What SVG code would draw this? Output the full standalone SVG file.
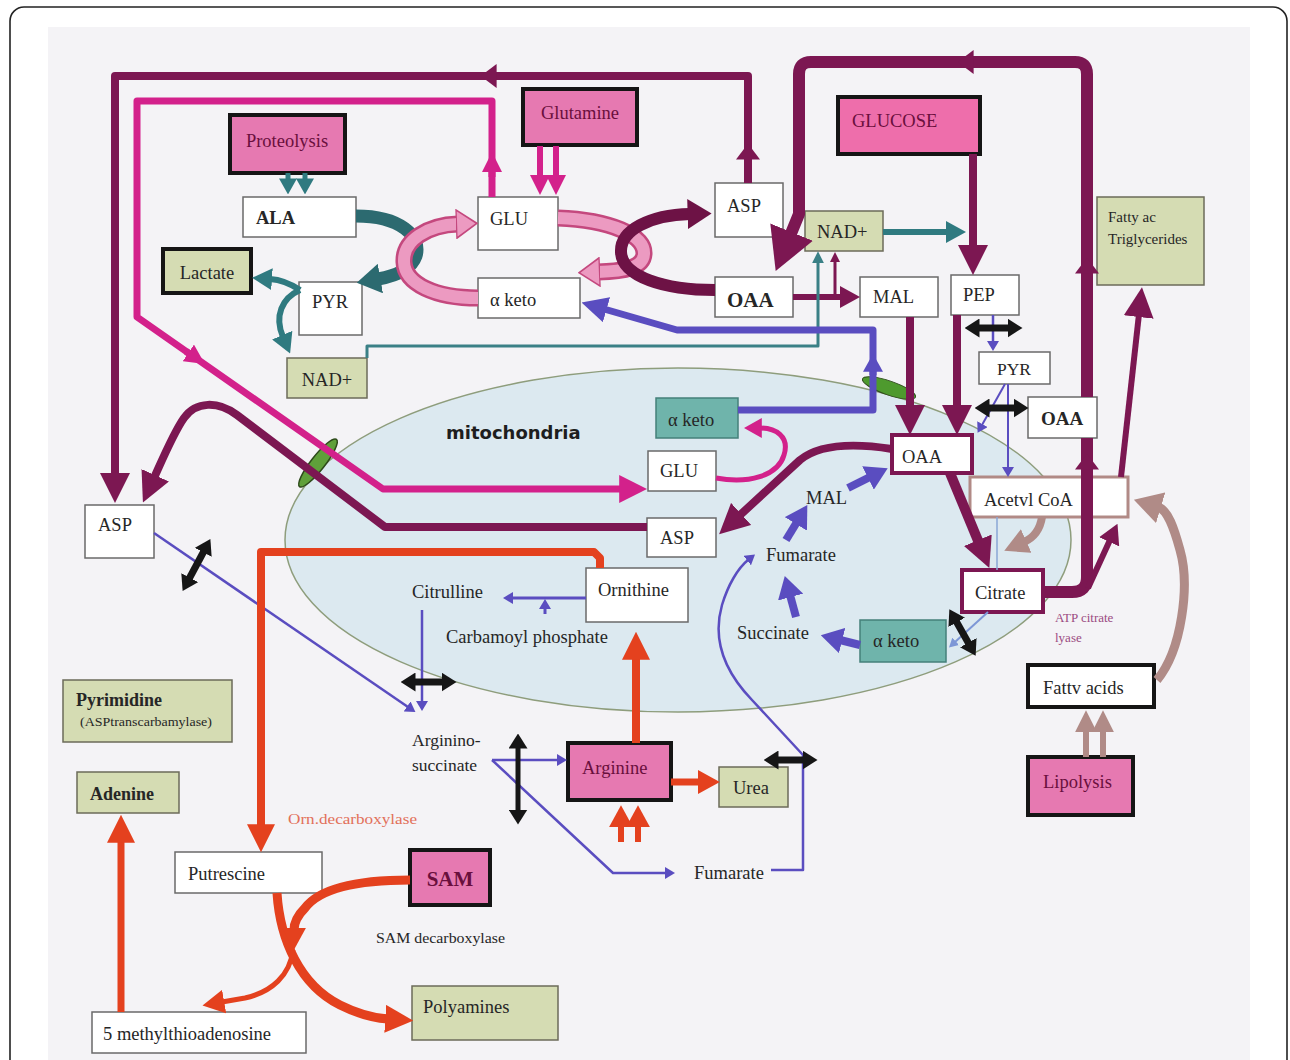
<svg xmlns="http://www.w3.org/2000/svg" width="1290" height="1060" viewBox="0 0 1290 1060">
<defs>
<style>
.bx{fill:#fff;stroke:#6a6a6a;stroke-width:1.5}
.pk{fill:#e679b1;stroke:#151515;stroke-width:4}
.gr{fill:#d5dcb3;stroke:#6b6b5a;stroke-width:1.5}
.grk{fill:#d5dcb3;stroke:#151515;stroke-width:4}
.tl{fill:#6fb4ab;stroke:#44807a;stroke-width:1.5}
.mr{fill:#fff;stroke:#7c1752;stroke-width:4}
.bk{fill:#fff;stroke:#151515;stroke-width:4}
.ac{fill:#fff;stroke:#b18a86;stroke-width:3}
text{font-family:"Liberation Serif","Times New Roman",serif;font-size:18.5px;fill:#262626;dominant-baseline:central}
.tp{fill:#6a0f3d}
.b{font-weight:bold}
.sm{font-size:13px}
.M{stroke:#7c1752}.P{stroke:#d3218b}.T{stroke:#2f7a80}.B{stroke:#5a4dc0}.R{stroke:#e4411e}.K{stroke:#161616}.N{stroke:#b08b87}
</style>
<marker id="mM30" viewBox="0 0 10 10" refX="1" refY="5" markerUnits="userSpaceOnUse" markerWidth="30" markerHeight="30" orient="auto" preserveAspectRatio="none"><path d="M0,0L10,5L0,10z" fill="#7c1752"/></marker>
<marker id="mM20" viewBox="0 0 10 10" refX="1" refY="5" markerUnits="userSpaceOnUse" markerWidth="20" markerHeight="22" orient="auto" preserveAspectRatio="none"><path d="M0,0L10,5L0,10z" fill="#7c1752"/></marker>
<marker id="mM44" viewBox="0 0 10 10" refX="1" refY="5" markerUnits="userSpaceOnUse" markerWidth="42" markerHeight="46" orient="auto" preserveAspectRatio="none"><path d="M0,0L10,5L0,10z" fill="#7c1752"/></marker>
<marker id="mMs" viewBox="0 0 10 10" refX="1" refY="5" markerUnits="userSpaceOnUse" markerWidth="16" markerHeight="24" orient="auto" preserveAspectRatio="none"><path d="M0,0L10,5L0,10z" fill="#7c1752"/></marker>
<marker id="mM10" viewBox="0 0 10 10" refX="1" refY="5" markerUnits="userSpaceOnUse" markerWidth="10" markerHeight="10" orient="auto" preserveAspectRatio="none"><path d="M0,0L10,5L0,10z" fill="#7c1752"/></marker>
<marker id="mMarc" viewBox="0 0 10 10" refX="1" refY="5" markerUnits="userSpaceOnUse" markerWidth="24" markerHeight="30" orient="auto" preserveAspectRatio="none"><path d="M0,0L10,5L0,10z" fill="#6d1245"/></marker>
<marker id="mP28" viewBox="0 0 10 10" refX="1" refY="5" markerUnits="userSpaceOnUse" markerWidth="28" markerHeight="28" orient="auto" preserveAspectRatio="none"><path d="M0,0L10,5L0,10z" fill="#d3218b"/></marker>
<marker id="mP20" viewBox="0 0 10 10" refX="1" refY="5" markerUnits="userSpaceOnUse" markerWidth="20" markerHeight="20" orient="auto" preserveAspectRatio="none"><path d="M0,0L10,5L0,10z" fill="#d3218b"/></marker>
<marker id="mP18" viewBox="0 0 10 10" refX="1" refY="5" markerUnits="userSpaceOnUse" markerWidth="18" markerHeight="20" orient="auto" preserveAspectRatio="none"><path d="M0,0L10,5L0,10z" fill="#d3218b"/></marker>
<marker id="mT20" viewBox="0 0 10 10" refX="1" refY="5" markerUnits="userSpaceOnUse" markerWidth="20" markerHeight="22" orient="auto" preserveAspectRatio="none"><path d="M0,0L10,5L0,10z" fill="#2f7a80"/></marker>
<marker id="mT16" viewBox="0 0 10 10" refX="1" refY="5" markerUnits="userSpaceOnUse" markerWidth="16" markerHeight="18" orient="auto" preserveAspectRatio="none"><path d="M0,0L10,5L0,10z" fill="#2f7a80"/></marker>
<marker id="mT12" viewBox="0 0 10 10" refX="1" refY="5" markerUnits="userSpaceOnUse" markerWidth="12" markerHeight="12" orient="auto" preserveAspectRatio="none"><path d="M0,0L10,5L0,10z" fill="#3a8086"/></marker>
<marker id="mTarc" viewBox="0 0 10 10" refX="1" refY="5" markerUnits="userSpaceOnUse" markerWidth="24" markerHeight="30" orient="auto" preserveAspectRatio="none"><path d="M0,0L10,5L0,10z" fill="#2c6a70"/></marker>
<marker id="mL" viewBox="0 0 10 10" refX="1" refY="5" markerUnits="userSpaceOnUse" markerWidth="22" markerHeight="30" orient="auto" preserveAspectRatio="none"><path d="M0.3,0.3L9.6,5L0.3,9.7z" fill="#ec9ac1" stroke="#c4487e" stroke-width="0.6"/></marker>
<marker id="mB26" viewBox="0 0 10 10" refX="1" refY="5" markerUnits="userSpaceOnUse" markerWidth="26" markerHeight="26" orient="auto" preserveAspectRatio="none"><path d="M0,0L10,5L0,10z" fill="#5a4dc0"/></marker>
<marker id="mB22" viewBox="0 0 10 10" refX="1" refY="5" markerUnits="userSpaceOnUse" markerWidth="22" markerHeight="26" orient="auto" preserveAspectRatio="none"><path d="M0,0L10,5L0,10z" fill="#5a4dc0"/></marker>
<marker id="mB18" viewBox="0 0 10 10" refX="1" refY="5" markerUnits="userSpaceOnUse" markerWidth="18" markerHeight="20" orient="auto" preserveAspectRatio="none"><path d="M0,0L10,5L0,10z" fill="#5a4dc0"/></marker>
<marker id="mB10" viewBox="0 0 10 10" refX="1" refY="5" markerUnits="userSpaceOnUse" markerWidth="10" markerHeight="12" orient="auto" preserveAspectRatio="none"><path d="M0,0L10,5L0,10z" fill="#5a4dc0"/></marker>
<marker id="mBl" viewBox="0 0 10 10" refX="1" refY="5" markerUnits="userSpaceOnUse" markerWidth="9" markerHeight="10" orient="auto" preserveAspectRatio="none"><path d="M0,0L10,5L0,10z" fill="#7d97d6"/></marker>
<marker id="mK" viewBox="0 0 10 10" refX="1" refY="5" markerUnits="userSpaceOnUse" markerWidth="15" markerHeight="19" orient="auto-start-reverse" preserveAspectRatio="none"><path d="M0,0L10,5L0,10z" fill="#161616"/></marker>
<marker id="mR28" viewBox="0 0 10 10" refX="1" refY="5" markerUnits="userSpaceOnUse" markerWidth="28" markerHeight="28" orient="auto" preserveAspectRatio="none"><path d="M0,0L10,5L0,10z" fill="#e4411e"/></marker>
<marker id="mR22" viewBox="0 0 10 10" refX="1" refY="5" markerUnits="userSpaceOnUse" markerWidth="22" markerHeight="24" orient="auto" preserveAspectRatio="none"><path d="M0,0L10,5L0,10z" fill="#e4411e"/></marker>
<marker id="mN22" viewBox="0 0 10 10" refX="1" refY="5" markerUnits="userSpaceOnUse" markerWidth="22" markerHeight="22" orient="auto" preserveAspectRatio="none"><path d="M0,0L10,5L0,10z" fill="#b08b87"/></marker>
<marker id="mN28" viewBox="0 0 10 10" refX="1" refY="5" markerUnits="userSpaceOnUse" markerWidth="28" markerHeight="32" orient="auto" preserveAspectRatio="none"><path d="M0,0L10,5L0,10z" fill="#b08b87"/></marker>
<marker id="mN24" viewBox="0 0 10 10" refX="1" refY="5" markerUnits="userSpaceOnUse" markerWidth="24" markerHeight="26" orient="auto" preserveAspectRatio="none"><path d="M0,0L10,5L0,10z" fill="#b08b87"/></marker>
</defs>

<rect width="1290" height="1060" fill="#fff"/>
<rect x="10" y="7" width="1277" height="1075" rx="14" fill="#fff" stroke="#222" stroke-width="1.6"/>
<rect x="48" y="27" width="1202" height="1040" fill="#f4f3f6"/>

<g id="mitochondria">
<ellipse cx="678" cy="540" rx="393" ry="172" fill="#dce9f0" stroke="#8e9d7c" stroke-width="1.5"/>
<text x="446" y="432" style="font-family:'DejaVu Sans','Liberation Sans',sans-serif;font-weight:bold;font-size:18px;fill:#1e1e1e">mitochondria</text>
<ellipse cx="318" cy="463" rx="30" ry="7" transform="rotate(-52 318 463)" fill="#5fa03a" stroke="#2d4a1a" stroke-width="1.5"/>
<ellipse cx="889" cy="388" rx="28" ry="7" transform="rotate(19 889 388)" fill="#4e9a2e" stroke="#2d4a1a" stroke-width="1"/>
</g>

<g id="nodes">
<g id="n-proteolysis"><rect class="pk" x="230" y="115" width="115" height="58"/><text class="tp" x="287" y="141" text-anchor="middle">Proteolysis</text></g>
<g id="n-glutamine"><rect class="pk" x="523" y="89" width="114" height="56"/><text class="tp" x="580" y="113" text-anchor="middle">Glutamine</text></g>
<g id="n-glucose"><rect class="pk" x="838" y="97" width="142" height="57" style="fill:#ee6eab"/><text class="tp" x="852" y="121">GLUCOSE</text></g>
<g id="n-ala"><rect class="bx" x="243" y="197" width="113" height="40"/><text class="b" x="256" y="218">ALA</text></g>
<g id="n-lactate"><rect class="grk" x="163" y="249" width="88" height="44"/><text x="207" y="273" text-anchor="middle">Lactate</text></g>
<g id="n-pyr1"><rect class="bx" x="299" y="282" width="63" height="53"/><text x="330" y="302" text-anchor="middle">PYR</text></g>
<g id="n-nad1"><rect class="gr" x="287" y="358" width="80" height="40"/><text x="327" y="380" text-anchor="middle">NAD+</text></g>
<g id="n-glu1"><rect class="bx" x="478" y="197" width="80" height="53"/><text x="490" y="219">GLU</text></g>
<g id="n-aketo1"><rect class="bx" x="478" y="278" width="102" height="40"/><text x="490" y="300">α keto</text></g>
<g id="n-asp1"><rect class="bx" x="715" y="183" width="68" height="54"/><text x="727" y="206">ASP</text></g>
<g id="n-oaa1"><rect class="bx" x="715" y="277" width="78" height="40"/><text class="b" x="727" y="300" style="font-size:21px">OAA</text></g>
<g id="n-nad2"><rect class="gr" x="805" y="211" width="78" height="40"/><text x="817" y="232">NAD+</text></g>
<g id="n-mal1"><rect class="bx" x="860" y="277" width="78" height="40"/><text x="873" y="297">MAL</text></g>
<g id="n-pep"><rect class="bx" x="951" y="275" width="68" height="40"/><text x="963" y="295">PEP</text></g>
<g id="n-pyr2"><rect class="bx" x="979" y="352" width="71" height="32"/><text x="1014" y="369" text-anchor="middle" style="font-size:17.5px">PYR</text></g>
<g id="n-oaa2"><rect class="bx" x="1028" y="397" width="69" height="41"/><text class="b" x="1062" y="418" text-anchor="middle" style="font-size:19px">OAA</text></g>
<g id="n-fattyac"><rect class="gr" x="1097" y="197" width="107" height="88"/><text x="1108" y="217" style="font-size:15px">Fatty ac</text><text x="1108" y="239" style="font-size:15px">Triglycerides</text></g>
<g id="n-oaa3"><rect class="mr" x="892" y="435" width="80" height="38"/><text x="902" y="457">OAA</text></g>
<g id="n-acetylcoa"><rect class="ac" x="970" y="477" width="158" height="40"/><text x="984" y="500">Acetvl CoA</text></g>
<g id="n-citrate"><rect class="mr" x="962" y="570" width="81" height="42"/><text x="975" y="593">Citrate</text></g>
<g id="n-aketo3"><rect class="tl" x="860" y="620" width="86" height="42"/><text x="873" y="641">α keto</text></g>
<g id="n-aketo2"><rect class="tl" x="656" y="398" width="82" height="40"/><text x="668" y="420">α keto</text></g>
<g id="n-glu2"><rect class="bx" x="648" y="451" width="68" height="40"/><text x="660" y="471">GLU</text></g>
<g id="n-asp2"><rect class="bx" x="647" y="518" width="69" height="39"/><text x="660" y="538">ASP</text></g>
<g id="n-ornithine"><rect class="bx" x="586" y="568" width="102" height="54"/><text x="598" y="590">Ornithine</text></g>
<g id="n-fattyacids"><rect class="bk" x="1028" y="665" width="126" height="42"/><text x="1043" y="688">Fattv acids</text></g>
<g id="n-lipolysis"><rect class="pk" x="1028" y="757" width="105" height="58"/><text class="tp" x="1043" y="782">Lipolysis</text></g>
<g id="n-asp3"><rect class="bx" x="85" y="505" width="69" height="53"/><text x="98" y="525">ASP</text></g>
<g id="n-pyrimidine"><rect class="gr" x="63" y="680" width="169" height="62"/><text class="b" x="76" y="700" style="font-size:18px">Pyrimidine</text><text x="80" y="722" style="font-size:12.5px" textLength="132" lengthAdjust="spacingAndGlyphs">(ASPtranscarbamylase)</text></g>
<g id="n-adenine"><rect class="gr" x="77" y="772" width="102" height="41"/><text class="b" x="90" y="794" style="font-size:18px">Adenine</text></g>
<g id="n-putrescine"><rect class="bx" x="175" y="852" width="147" height="41"/><text x="188" y="874">Putrescine</text></g>
<g id="n-sam"><rect class="pk" x="410" y="850" width="80" height="55"/><text class="tp b" x="450" y="879" text-anchor="middle" style="font-size:21px">SAM</text></g>
<g id="n-polyamines"><rect class="gr" x="412" y="986" width="146" height="54"/><text x="423" y="1007">Polyamines</text></g>
<g id="n-mta"><rect class="bx" x="92" y="1012" width="214" height="41"/><text x="103" y="1034">5 methylthioadenosine</text></g>
<g id="n-arginine"><rect class="pk" x="568" y="743" width="103" height="57"/><text class="tp" x="582" y="768">Arginine</text></g>
<g id="n-urea"><rect class="gr" x="719" y="767" width="69" height="40"/><text x="733" y="788">Urea</text></g>
<g id="n-citrulline"><text x="412" y="592">Citrulline</text></g>
<g id="n-carbamoyl"><text x="446" y="637">Carbamoyl phosphate</text></g>
<g id="n-argsucc"><text x="412" y="740" style="font-size:17.5px">Arginino-</text><text x="412" y="765" style="font-size:17.5px">succinate</text></g>
<g id="n-fumarate2"><text x="694" y="873">Fumarate</text></g>
<g id="n-fumarate1"><text x="766" y="555">Fumarate</text></g>
<g id="n-succinate"><text x="737" y="633">Succinate</text></g>
<g id="n-mal2"><text x="806" y="498">MAL</text></g>
<g id="l-orn"><text x="288" y="819" style="font-size:15px;fill:#e2705a" textLength="129" lengthAdjust="spacingAndGlyphs">Orn.decarboxylase</text></g>
<g id="l-sam"><text x="376" y="938" style="font-size:14px" textLength="129" lengthAdjust="spacingAndGlyphs">SAM decarboxylase</text></g>
<g id="l-atp"><text class="sm" x="1055" y="617" style="fill:#9b4b82">ATP citrate</text><text class="sm" x="1055" y="637" style="fill:#9b4b82">lyase</text></g>
</g>

<g id="connectors" fill="none" stroke-linejoin="round">
<!-- pink ring, teal arc, maroon arc -->
<path class="T" d="M356,216 C400,216 422,236 416,256 C411,270 395,276 378,279" style="stroke:#2c6a70" stroke-width="13" marker-end="url(#mTarc)"/>
<path d="M558,218 C610,220 645,235 644,254 C643,268 625,271 598,272" stroke="#c4487e" stroke-width="17"/>
<path d="M558,218 C610,220 645,235 644,254 C643,268 625,271 598,272" stroke="#ec9ac1" stroke-width="12" marker-end="url(#mL)"/>
<path d="M478,298 C435,298 405,284 404,262 C403,240 428,225 458,224" stroke="#c4487e" stroke-width="17"/>
<path d="M478,298 C435,298 405,284 404,262 C403,240 428,225 458,224" stroke="#ec9ac1" stroke-width="12" marker-end="url(#mL)"/>
<path d="M715,290 C665,290 622,277 621,252 C620,230 650,215 690,214" style="stroke:#6d1245" stroke-width="12" marker-end="url(#mMarc)"/>

<!-- maroon -->
<path class="M" d="M748,183 V76 H115 V476" stroke-width="8" marker-end="url(#mM30)"/>
<path class="M" d="M748,165 V158" stroke-width="8" marker-end="url(#mMs)"/>
<path class="M" d="M500,76 H495" stroke-width="8" marker-end="url(#mMs)"/>
<path class="M" d="M1087,397 V74 Q1087,62 1075,62 H811 Q799,62 799,74 V214 L790,236" stroke-width="12" marker-end="url(#mM44)"/>
<path class="M" d="M1087,282 V272" stroke-width="12" marker-end="url(#mMs)"/>
<path class="M" d="M985,62 H972" stroke-width="12" marker-end="url(#mMs)"/>
<path class="M" d="M1043,592 H1072 Q1087,592 1087,577 V438" stroke-width="12"/>
<path class="M" d="M1087,478 V468" stroke-width="12" marker-end="url(#mMs)"/>
<path class="M" d="M1088,588 L1110,540" stroke-width="6" marker-end="url(#mM20)"/>
<path class="M" d="M1121,477 L1139,314" stroke-width="6" marker-end="url(#mM30)"/>
<path class="M" d="M647,527 H385 L237,415 C218,401 196,401 184,418 C174,432 163,458 154,478" stroke-width="8" marker-end="url(#mM30)"/>
<path class="M" d="M892,449 C860,444 822,442 800,460 L739,516" stroke-width="8" marker-end="url(#mM30)"/>
<path class="M" d="M950,473 L979,543" stroke-width="10" marker-end="url(#mM30)"/>
<path class="M" d="M793,297 H842" stroke-width="6" marker-end="url(#mM20)"/>
<path class="M" d="M835,297 V261" stroke-width="3" marker-end="url(#mM10)"/>
<path class="M" d="M973,154 V248" stroke-width="8" marker-end="url(#mM30)"/>
<path class="M" d="M910,317 V408" stroke-width="8" marker-end="url(#mM30)"/>
<path class="M" d="M957,315 V408" stroke-width="8" marker-end="url(#mM30)"/>

<!-- magenta -->
<path class="P" d="M540,146 V177" stroke-width="6" marker-end="url(#mP20)"/>
<path class="P" d="M556,146 V177" stroke-width="6" marker-end="url(#mP20)"/>
<path class="P" d="M492,197 V101 H137 V317 L383,489 H622" stroke-width="7" marker-end="url(#mP28)"/>
<path class="P" d="M492,177 V170" stroke-width="7" marker-end="url(#mP20)"/>
<path class="P" d="M186,351.3 L190,354" stroke-width="7" marker-end="url(#mP20)"/>
<path class="P" d="M716,478 C748,484 778,476 784,455 C790,436 775,428 760,428" stroke-width="5" marker-end="url(#mP18)"/>

<!-- teal -->
<path class="T" d="M288,173 V180" stroke-width="5" marker-end="url(#mT16)"/>
<path class="T" d="M305,173 V180" stroke-width="5" marker-end="url(#mT16)"/>
<path class="T" d="M300,290 Q285,280 270,279" stroke-width="6" marker-end="url(#mT20)"/>
<path class="T" d="M300,290 C282,298 274,316 283,337" stroke-width="6" marker-end="url(#mT20)"/>
<path d="M367,358 V346 H818 V262" stroke="#3a8086" stroke-width="3" marker-end="url(#mT12)"/>
<path class="T" d="M883,232 H948" stroke-width="6" marker-end="url(#mT20)"/>

<!-- blue -->
<path class="B" d="M738,410 H873 V330 H677 L604,309" stroke-width="7" marker-end="url(#mB26)"/>
<path class="B" d="M873,375 V370" stroke-width="7" marker-end="url(#mB18)"/>
<path class="B" d="M860,645 L840,640" stroke-width="8" marker-end="url(#mB22)"/>
<path class="B" d="M796,617 L790,595" stroke-width="8" marker-end="url(#mB22)"/>
<path class="B" d="M786,540 L797,522" stroke-width="8" marker-end="url(#mB22)"/>
<path class="B" d="M848,488 L870,477" stroke-width="8" marker-end="url(#mB22)"/>
<path class="B" d="M586,598 H512" stroke-width="3" marker-end="url(#mB10)"/>
<path class="B" d="M545,614 V608" stroke-width="3" marker-end="url(#mB10)"/>
<path class="B" d="M422,610 V702" stroke-width="2.5" marker-end="url(#mB10)"/>
<path class="B" d="M154,533 L408,707" stroke-width="2.5" marker-end="url(#mB10)"/>
<path class="B" d="M492,760 H558" stroke-width="2.5" marker-end="url(#mB10)"/>
<path class="B" d="M492,760 L613,873 H666" stroke-width="2.5" marker-end="url(#mB10)"/>
<path class="B" d="M771,870 H803 V755 L752,700 C725,672 712,640 722,605 C728,585 738,568 748,560" stroke-width="2.5" marker-end="url(#mB10)"/>
<path class="B" d="M993,315 V342" stroke-width="2.5" marker-end="url(#mB10)"/>
<path class="B" d="M1005,384 L982,425" stroke-width="2" marker-end="url(#mB10)"/>
<path class="B" d="M1008,384 V468" stroke-width="2" marker-end="url(#mB10)"/>
<path d="M988,612 L955,642" stroke="#7d97d6" stroke-width="2" marker-end="url(#mBl)"/>
<path d="M997,517 V570" stroke="#8aa6d6" stroke-width="1.5"/>

<!-- black double arrows -->
<path class="K" d="M978,328 H1009" stroke-width="7" marker-start="url(#mK)" marker-end="url(#mK)"/>
<path class="K" d="M988,408 H1015" stroke-width="7" marker-start="url(#mK)" marker-end="url(#mK)"/>
<path class="K" d="M189,579 L204,551" stroke-width="7" marker-start="url(#mK)" marker-end="url(#mK)"/>
<path class="K" d="M414,682 H443" stroke-width="7" marker-start="url(#mK)" marker-end="url(#mK)"/>
<path class="K" d="M518,747 V811" stroke-width="5" marker-start="url(#mK)" marker-end="url(#mK)"/>
<path class="K" d="M777,760 H804" stroke-width="7" marker-start="url(#mK)" marker-end="url(#mK)"/>
<path class="K" d="M956,621 L969,644" stroke-width="7" marker-start="url(#mK)" marker-end="url(#mK)"/>

<!-- red -->
<path class="R" d="M600,568 V558 L594,552 H261 V827" stroke-width="8" marker-end="url(#mR28)"/>
<path class="R" d="M636,743 V657" stroke-width="8" marker-end="url(#mR28)"/>
<path class="R" d="M671,782 H700" stroke-width="7" marker-end="url(#mR22)"/>
<path class="R" d="M621,842 V825" stroke-width="6" marker-end="url(#mR22)"/>
<path class="R" d="M638,842 V825" stroke-width="6" marker-end="url(#mR22)"/>
<path class="R" d="M121,1012 V840" stroke-width="7" marker-end="url(#mR28)"/>
<path class="R" d="M277,893 C280,940 300,985 340,1005 C358,1014 372,1018 388,1019" stroke-width="9" marker-end="url(#mR28)"/>
<path class="R" d="M410,880 C360,880 320,888 305,908 C297,916 294,924 294,930" stroke-width="9" marker-end="url(#mR22)"/>
<path class="R" d="M293,950 C290,975 272,992 245,998 L222,1002" stroke-width="5" marker-end="url(#mR22)"/>

<!-- taupe -->
<path class="N" d="M1086,757 V730" stroke-width="6" marker-end="url(#mN22)"/>
<path class="N" d="M1103,757 V730" stroke-width="6" marker-end="url(#mN22)"/>
<path class="N" d="M1157,680 C1182,650 1190,585 1180,550 C1174,528 1168,510 1158,507" stroke-width="9" marker-end="url(#mN28)"/>
<path class="N" d="M1042,517 C1040,530 1033,538 1024,542" stroke-width="8" marker-end="url(#mN24)"/>
</g>
</svg>
